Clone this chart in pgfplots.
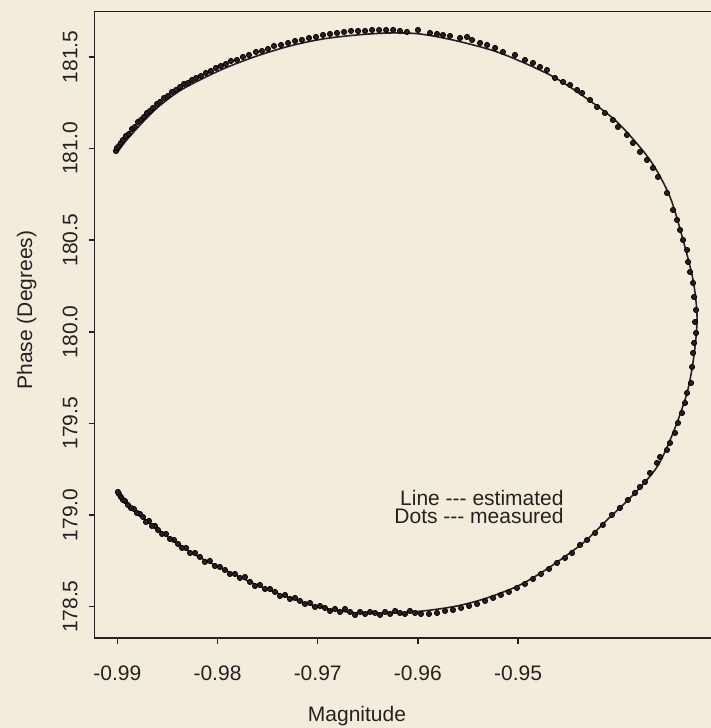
\documentclass[border=0pt]{standalone}
\usepackage{fontspec}
\setmainfont{Liberation Sans}
\usepackage{pgfplots}
\pgfplotsset{compat=1.18}
\usetikzlibrary{backgrounds}
\definecolor{paper}{RGB}{243,236,220}
\definecolor{ink}{RGB}{38,33,32}
\begin{document}
\begin{tikzpicture}[font=\fontsize{10.5}{12}\selectfont]
\begin{axis}[
  scale only axis, width=308.25pt, height=313.5pt,
  xmin=-0.99228, xmax=-0.93074, ymin=178.329, ymax=181.750,
  axis lines*=left, axis line style={ink, line width=0.8pt, -},
  tick align=outside, major tick length=2.8pt,
  tick style={ink, line width=0.8pt},
  scaled ticks=false,
  xtick={-0.99,-0.98,-0.97,-0.96,-0.95},
  xticklabels={-0.99,-0.98,-0.97,-0.96,-0.95},
  ytick={178.5,179,179.5,180,180.5,181,181.5},
  yticklabels={178.5,179.0,179.5,180.0,180.5,181.0,181.5},
  minor tick num=0,
  xticklabel style={inner sep=0pt, anchor=north, text=ink},
  yticklabel style={rotate=90, inner sep=0pt, anchor=south, text=ink},
  xticklabel shift=11pt, yticklabel shift=5.5pt,
  xlabel={Magnitude}, ylabel={Phase (Degrees)},
  xlabel style={at={(axis description cs:0.4258,-0.1244)}, anchor=center, text=ink},
  ylabel style={at={(axis description cs:-0.110,0.523)}, anchor=center, text=ink},
]
\addplot[ink, line width=0.8pt, smooth, no markers] coordinates {
(-0.99003,180.9754) (-0.98923,181.0355) (-0.98773,181.1282) (-0.98604,181.2210)
(-0.98424,181.2974) (-0.98274,181.3465) (-0.97945,181.4338) (-0.97606,181.5047)
(-0.97276,181.5593) (-0.96947,181.5975) (-0.96607,181.6193) (-0.96278,181.6302)
(-0.95978,181.6247) (-0.95609,181.5866) (-0.95180,181.5211) (-0.94681,181.4010)
(-0.94351,181.2864) (-0.94012,181.1446) (-0.93683,180.9373) (-0.93483,180.7354)
(-0.93353,180.5008) (-0.93253,180.2825) (-0.93213,180.0806) (-0.93243,179.8733)
(-0.93313,179.6660) (-0.93453,179.4477) (-0.93613,179.2622) (-0.93852,179.1094)
(-0.94112,178.9730) (-0.94351,178.8475) (-0.94681,178.7166) (-0.94980,178.6184)
(-0.95310,178.5475) (-0.95609,178.5038) (-0.95949,178.4765) (-0.96278,178.4656)
(-0.96607,178.4656) (-0.96947,178.4929) (-0.97276,178.5475) (-0.97606,178.6184)
(-0.97945,178.7057) (-0.98274,178.7984) (-0.98604,178.9239) (-0.98773,179.0003)
(-0.98923,179.0712) (-0.98993,179.1203)
};
\addplot[only marks, mark=*, mark size=1.3pt, mark options={draw=none, fill=ink}] coordinates {
(-0.99014,180.9863) (-0.99004,181.0027) (-0.98984,181.0136) (-0.98964,181.0300)
(-0.98944,181.0463) (-0.98914,181.0682) (-0.98884,181.0791) (-0.98854,181.1064)
(-0.98824,181.1173) (-0.98794,181.1446) (-0.98764,181.1555) (-0.98734,181.1718)
(-0.98704,181.1937) (-0.98674,181.2046) (-0.98644,181.2209) (-0.98604,181.2428)
(-0.98574,181.2537) (-0.98534,181.2755) (-0.98494,181.2864) (-0.98454,181.3082)
(-0.98414,181.3192) (-0.98374,181.3355) (-0.98334,181.3519) (-0.98294,181.3573)
(-0.98254,181.3737) (-0.98214,181.3846) (-0.98166,181.3955) (-0.98116,181.4119)
(-0.98066,181.4228) (-0.98016,181.4392) (-0.97966,181.4501) (-0.97916,181.4610)
(-0.97866,181.4774) (-0.97806,181.4828) (-0.97746,181.4992) (-0.97686,181.5101)
(-0.97616,181.5265) (-0.97556,181.5319) (-0.97496,181.5429) (-0.97436,181.5592)
(-0.97366,181.5647) (-0.97296,181.5756) (-0.97226,181.5865)
(-0.97157,181.5920) (-0.97087,181.6029) (-0.97017,181.6083) (-0.96947,181.6192)
(-0.96877,181.6247) (-0.96807,181.6301) (-0.96737,181.6356) (-0.96667,181.6411)
(-0.96597,181.6411) (-0.96527,181.6411) (-0.96457,181.6465) (-0.96387,181.6465)
(-0.96317,181.6465) (-0.96247,181.6465) (-0.96179,181.6411)
(-0.96109,181.6356) (-0.95999,181.6465) (-0.95879,181.6301) (-0.95809,181.6247)
(-0.95749,181.6192) (-0.95679,181.6138) (-0.95579,181.6029) (-0.95509,181.6083)
(-0.95459,181.5920) (-0.95379,181.5756) (-0.95309,181.5647) (-0.95229,181.5483)
(-0.95151,181.5265) (-0.95031,181.5101) (-0.94931,181.4828) (-0.94851,181.4665)
(-0.94781,181.4446) (-0.94711,181.4283) (-0.94631,181.3846) (-0.94551,181.3628)
(-0.94481,181.3464) (-0.94411,181.3192) (-0.94361,181.3028) (-0.94281,181.2646)
(-0.94211,181.2264) (-0.94133,181.1937) (-0.94053,181.1555) (-0.94003,181.1173)
(-0.93913,181.0736) (-0.93853,181.0300) (-0.93783,180.9809) (-0.93713,180.9372)
(-0.93653,180.8936) (-0.93603,180.8445) (-0.93513,180.7572)
(-0.93453,180.6644) (-0.93413,180.6099) (-0.93383,180.5553) (-0.93353,180.5007)
(-0.93313,180.4462) (-0.93303,180.3807) (-0.93283,180.3261) (-0.93253,180.2661)
(-0.93243,180.1897) (-0.93223,180.1188) (-0.93233,180.0533) (-0.93223,179.9933)
(-0.93243,179.9388) (-0.93253,179.8842) (-0.93263,179.8078) (-0.93273,179.7205)
(-0.93313,179.6660) (-0.93333,179.6114) (-0.93363,179.5568) (-0.93403,179.5023)
(-0.93433,179.4477) (-0.93483,179.3931) (-0.93513,179.3550) (-0.93583,179.3168)
(-0.93613,179.2840) (-0.93683,179.2295) (-0.93733,179.1804) (-0.93783,179.1531)
(-0.93833,179.1203) (-0.93903,179.0822) (-0.93983,179.0385) (-0.94063,179.0003)
(-0.94153,178.9457) (-0.94231,178.9021) (-0.94311,178.8639) (-0.94381,178.8366)
(-0.94461,178.7930) (-0.94531,178.7657) (-0.94611,178.7384) (-0.94691,178.7057)
(-0.94771,178.6784) (-0.94851,178.6511) (-0.94931,178.6238) (-0.95011,178.6020)
(-0.95091,178.5802) (-0.95171,178.5638) (-0.95249,178.5475) (-0.95329,178.5311)
(-0.95409,178.5147) (-0.95489,178.5038) (-0.95569,178.4929) (-0.95649,178.4820)
(-0.95729,178.4765) (-0.95809,178.4656) (-0.95889,178.4602) (-0.95969,178.4602)
(-0.96029,178.4656) (-0.96079,178.4765) (-0.96129,178.4602) (-0.96179,178.4656)
(-0.96227,178.4765) (-0.96277,178.4602) (-0.96327,178.4711) (-0.96377,178.4547)
(-0.96427,178.4656) (-0.96477,178.4711) (-0.96527,178.4602) (-0.96577,178.4711)
(-0.96627,178.4547) (-0.96677,178.4711) (-0.96727,178.4875) (-0.96777,178.4711)
(-0.96827,178.4875) (-0.96877,178.4765) (-0.96927,178.4929) (-0.96977,178.5038)
(-0.97027,178.4984) (-0.97077,178.5202) (-0.97127,178.5147) (-0.97177,178.5311)
(-0.97226,178.5475) (-0.97276,178.5420) (-0.97326,178.5638) (-0.97376,178.5584)
(-0.97426,178.5802) (-0.97476,178.5966) (-0.97526,178.5966) (-0.97576,178.6184)
(-0.97626,178.6129) (-0.97676,178.6348) (-0.97726,178.6620) (-0.97776,178.6566)
(-0.97826,178.6784) (-0.97876,178.6784) (-0.97926,178.7002) (-0.97976,178.7166)
(-0.98026,178.7220) (-0.98076,178.7493) (-0.98126,178.7439) (-0.98176,178.7712)
(-0.98224,178.7930) (-0.98274,178.7930) (-0.98314,178.8203) (-0.98354,178.8203)
(-0.98394,178.8421) (-0.98434,178.8639) (-0.98474,178.8694) (-0.98514,178.8966)
(-0.98554,178.8966) (-0.98594,178.9185) (-0.98624,178.9403) (-0.98654,178.9403)
(-0.98684,178.9676) (-0.98714,178.9621) (-0.98744,178.9894) (-0.98774,179.0058)
(-0.98804,179.0112) (-0.98834,179.0331) (-0.98864,179.0385) (-0.98894,179.0549)
(-0.98924,179.0767) (-0.98944,179.0822) (-0.98964,179.0985) (-0.98984,179.1149)
(-0.98994,179.1258)
};
\node[anchor=base east, inner sep=0pt, text=ink] at (axis cs:-0.94541,179.0494) {Line -{}-{}- estimated};
\node[anchor=base east, inner sep=0pt, text=ink] at (axis cs:-0.94541,178.9512) {Dots -{}-{}- measured};
\draw[ink, line width=0.8pt] (rel axis cs:0,1) -- (rel axis cs:1,1);
\coordinate (bbll) at (rel axis cs:-0.15328,-0.14354);
\coordinate (bbur) at (rel axis cs:1,1.01754);
\end{axis}
\pgfresetboundingbox
\useasboundingbox (bbll) rectangle (bbur);
\begin{scope}[on background layer]
\fill[paper] (bbll) rectangle (bbur);
\end{scope}
\end{tikzpicture}
\end{document}
